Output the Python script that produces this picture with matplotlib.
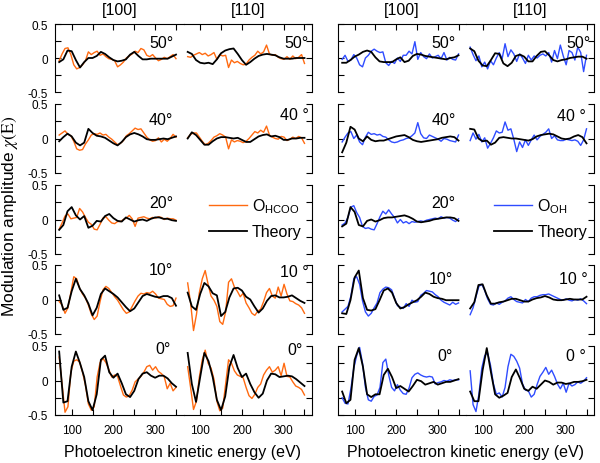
import matplotlib.pyplot as plt
from matplotlib.ticker import FixedLocator, MultipleLocator, FuncFormatter
from matplotlib.lines import Line2D

plt.rcParams['font.family'] = ['Liberation Sans', 'DejaVu Sans']
plt.rcParams['mathtext.fontset'] = 'stix'

# energy grids (eV)
e_th = list(range(70, 351, 10))
e_exp = list(range(70, 351, 7))

# ---- O(HCOO), [100] azimuth ----
hcoo_100_50_th = [-0.06, -0.02, 0.11, 0.10, -0.03, -0.14, -0.06, 0.0, 0.0, 0.03, 0.09, 0.06, 0.01, -0.03, -0.05,
                  -0.04, -0.02, 0.05, 0.09, 0.03, -0.02, -0.02, -0.01, -0.01, -0.01, -0.01, -0.01, 0.02, 0.05]
hcoo_100_50_ex = [-0.04, 0.06, 0.14, 0.15, 0.05, -0.10, -0.16, -0.14, -0.10, -0.04, 0.09, 0.05, 0.08, 0.10, 0.04,
                  0.06, 0.02, -0.01, -0.02, -0.04, -0.13, -0.10, -0.06, 0.00, 0.03, 0.06, 0.10, 0.08, 0.14, 0.12,
                  0.04, 0.02, 0.05, 0.00, -0.04, -0.02, 0.01, -0.01, 0.02, 0.05, -0.01]
hcoo_100_40_th = [-0.04, 0.02, 0.07, 0.03, -0.06, -0.10, -0.06, 0.14, 0.08, 0.04, 0.03, 0.01, -0.03, -0.07, -0.10,
                  -0.05, 0.02, 0.06, 0.08, 0.06, 0.03, -0.01, -0.02, -0.02, -0.01, 0.00, -0.01, 0.01, 0.03]
hcoo_100_40_ex = [0.05, 0.08, 0.11, 0.06, 0.04, -0.04, -0.15, -0.17, -0.16, -0.08, -0.02, 0.05, 0.07, 0.06, 0.08,
                  0.05, 0.06, 0.02, -0.01, -0.05, -0.09, -0.07, -0.03, 0.04, 0.07, 0.11, 0.15, 0.13, 0.14, 0.08,
                  0.02, -0.02, -0.04, -0.03, 0.01, -0.05, -0.01, -0.04, 0.00, 0.06, 0.02]
hcoo_100_20_th = [-0.15, -0.08, 0.12, 0.18, 0.06, 0.00, 0.05, -0.12, -0.09, -0.02, -0.03, 0.05, 0.08, 0.02, -0.02,
                  -0.03, 0.03, 0.00, -0.03, -0.01, 0.00, -0.02, 0.01, 0.03, 0.03, 0.01, 0.01, -0.01, -0.02]
hcoo_100_20_ex = [-0.14, -0.05, 0.05, 0.08, 0.01, 0.02, 0.03, 0.16, 0.11, 0.03, -0.04, -0.07, -0.14, -0.15, -0.07,
                  0.02, 0.04, -0.01, -0.05, -0.06, -0.03, -0.03, 0.00, 0.02, 0.06, 0.01, -0.10, 0.02, 0.03, 0.04,
                  0.02, 0.01, 0.03, 0.02, 0.04, 0.03, 0.00, 0.02, 0.01, 0.01, -0.01]
hcoo_100_10_th = [0.06, -0.15, -0.12, 0.12, 0.30, 0.15, 0.06, -0.06, -0.23, -0.12, 0.08, 0.16, 0.12, 0.08, 0.03,
                  -0.04, -0.11, -0.17, -0.13, -0.04, 0.05, 0.08, 0.06, 0.04, 0.03, 0.05, 0.05, 0.02, -0.09]
hcoo_100_10_ex = [-0.03, -0.08, -0.20, -0.12, 0.10, 0.33, 0.30, 0.16, 0.08, 0.02, -0.08, -0.21, -0.29, -0.24, -0.03,
                  0.14, 0.19, 0.16, 0.10, 0.04, -0.01, -0.08, -0.15, -0.20, -0.18, -0.10, -0.02, 0.05, 0.09, 0.08,
                  0.10, 0.09, 0.12, 0.08, 0.02, 0.01, 0.00, -0.07, -0.10, -0.09, 0.02]
hcoo_100_0_th = [0.42, -0.32, -0.30, 0.20, 0.42, 0.25, 0.05, -0.30, -0.43, -0.20, 0.30, 0.36, 0.12, 0.04, 0.10,
                 -0.04, -0.20, -0.24, -0.15, 0.02, 0.10, 0.12, 0.07, 0.04, 0.07, 0.07, 0.03, -0.04, -0.09]
hcoo_100_0_ex = [0.34, -0.05, -0.46, -0.38, 0.12, 0.28, 0.30, 0.27, 0.12, -0.07, -0.34, -0.43, -0.38, 0.05, 0.26,
                 0.32, 0.26, 0.16, 0.05, 0.08, 0.06, -0.08, -0.21, -0.24, -0.22, -0.14, -0.02, 0.02, 0.06, 0.12,
                 0.20, 0.22, 0.15, 0.20, 0.13, 0.10, 0.05, -0.12, -0.04, -0.15, -0.10]

# ---- O(HCOO), [110] azimuth ----
hcoo_110_50_th = [0.09, 0.06, -0.03, -0.07, -0.08, -0.07, -0.09, -0.02, 0.07, 0.11, 0.13, 0.14, 0.06, -0.03, -0.10,
                  -0.06, -0.01, 0.03, 0.05, 0.06, 0.05, 0.04, 0.01, -0.01, -0.01, -0.01, 0.00, 0.00, 0.00]
hcoo_110_50_ex = [0.02, 0.01, 0.04, 0.06, 0.08, 0.05, 0.07, 0.03, 0.05, 0.08, -0.02, 0.05, 0.03, 0.04, -0.14,
                  -0.03, -0.07, -0.05, -0.08, -0.10, -0.09, -0.03, 0.01, 0.04, 0.10, 0.06, 0.09, 0.19, 0.06, 0.04,
                  0.05, 0.01, -0.01, -0.02, 0.02, -0.02, 0.03, -0.01, 0.01, 0.05, -0.08]
hcoo_110_40_th = [0.00, 0.09, 0.05, -0.02, -0.09, -0.09, -0.04, 0.00, 0.02, 0.02, 0.01, 0.00, 0.01, -0.02, -0.05,
                  -0.05, -0.01, 0.03, 0.05, 0.06, 0.03, 0.04, 0.02, -0.02, -0.02, 0.00, 0.00, 0.01, 0.01]
hcoo_110_40_ex = [0.01, 0.06, 0.08, 0.08, 0.02, -0.04, -0.09, -0.07, -0.03, 0.02, 0.04, 0.07, 0.05, 0.02, -0.15,
                  -0.02, -0.05, -0.03, -0.04, -0.06, -0.04, 0.00, 0.05, 0.10, 0.08, 0.12, 0.09, 0.18, 0.05, 0.02,
                  0.00, -0.01, 0.03, 0.02, -0.03, -0.01, 0.02, 0.00, 0.03, 0.01, -0.07]
hcoo_110_10_th = [0.10, -0.10, -0.15, 0.08, 0.24, 0.19, 0.09, 0.06, -0.24, -0.18, 0.03, 0.16, 0.17, 0.13, 0.04,
                  0.00, -0.10, -0.19, -0.13, -0.02, 0.05, 0.06, 0.03, 0.03, 0.04, 0.06, 0.02, -0.02, -0.05]
hcoo_110_10_ex = [0.24, -0.05, -0.45, -0.22, 0.10, 0.30, 0.42, 0.22, 0.05, -0.01, -0.10, -0.32, -0.36, -0.18, 0.25,
                  0.30, 0.18, 0.12, 0.04, 0.09, -0.05, -0.12, -0.20, -0.23, -0.17, -0.14, -0.03, 0.10, 0.16, 0.05,
                  0.02, 0.18, 0.05, 0.22, 0.08, -0.02, -0.03, -0.06, -0.08, -0.12, -0.20]
hcoo_110_0_th = [0.40, -0.05, -0.31, 0.05, 0.40, 0.28, 0.05, -0.28, -0.43, -0.23, 0.20, 0.37, 0.18, 0.05, 0.10,
                 -0.05, -0.17, -0.25, -0.19, 0.00, 0.10, 0.09, 0.05, 0.06, 0.07, 0.06, 0.02, -0.03, -0.08]
hcoo_110_0_ex = [0.20, -0.10, -0.42, -0.30, 0.05, 0.30, 0.44, 0.25, 0.18, 0.02, -0.30, -0.44, -0.40, -0.05, 0.30,
                 0.25, 0.14, 0.08, 0.06, 0.04, -0.10, -0.22, -0.26, -0.20, -0.10, -0.05, 0.08, 0.15, 0.20, 0.12,
                 0.15, 0.20, 0.07, 0.25, 0.06, 0.05, -0.02, -0.08, -0.10, -0.13, -0.21]

# ---- O(OH), [100] azimuth ----
oh_100_50_th = [-0.07, -0.07, -0.03, 0.02, 0.05, 0.09, 0.11, 0.09, 0.01, -0.05, -0.06, -0.06, -0.06, -0.02, 0.01,
                -0.06, -0.04, 0.03, 0.06, 0.05, 0.03, 0.02, 0.01, 0.00, -0.01, -0.02, 0.00, 0.01, 0.04]
oh_100_50_ex = [-0.02, 0.04, -0.05, -0.03, 0.05, 0.00, -0.10, -0.13, 0.00, 0.04, 0.10, 0.13, 0.10, 0.08, 0.09,
                -0.07, -0.11, -0.05, -0.08, 0.00, -0.05, 0.04, 0.04, 0.10, 0.06, 0.24, -0.02, 0.08, 0.02, -0.01,
                0.06, 0.00, 0.02, 0.04, -0.01, 0.08, -0.03, 0.01, -0.02, -0.03, 0.06]
oh_100_40_th = [-0.20, -0.06, 0.17, 0.13, 0.00, -0.04, 0.03, -0.02, -0.04, -0.03, -0.03, -0.01, 0.01, 0.03, 0.04,
                0.05, 0.02, -0.02, -0.04, -0.05, -0.04, -0.03, -0.02, -0.01, 0.01, 0.02, 0.03, 0.02, -0.03]
oh_100_40_ex = [-0.05, 0.02, 0.08, 0.10, 0.00, 0.05, -0.05, -0.09, 0.02, 0.09, 0.06, 0.07, 0.05, 0.06, 0.03,
                0.02, -0.02, -0.05, -0.06, -0.05, -0.03, -0.02, 0.00, 0.01, 0.04, 0.08, 0.23, 0.07, 0.01, 0.00,
                0.05, 0.03, 0.01, -0.01, -0.04, 0.00, -0.01, -0.03, -0.04, -0.05, 0.05]
oh_100_20_th = [-0.10, -0.06, 0.18, 0.11, -0.08, -0.10, -0.02, 0.00, -0.03, -0.01, 0.02, 0.03, 0.03, 0.04, 0.05,
                0.06, 0.04, 0.01, -0.03, -0.04, -0.03, -0.02, 0.00, 0.01, 0.02, 0.03, 0.03, 0.02, -0.02]
oh_100_20_ex = [-0.08, -0.05, 0.03, 0.18, 0.20, 0.10, 0.03, -0.10, -0.13, -0.12, -0.14, -0.15, -0.06, 0.04, 0.12,
                0.08, 0.14, 0.08, 0.03, -0.05, 0.00, -0.05, -0.03, -0.06, -0.03, -0.04, -0.03, -0.02, -0.03, -0.01,
                0.00, 0.01, 0.02, 0.01, 0.04, 0.02, 0.03, 0.02, -0.01, -0.03, 0.01]
oh_100_10_th = [-0.20, -0.21, -0.01, 0.32, 0.42, 0.02, -0.15, -0.16, -0.14, -0.01, 0.13, 0.16, 0.10, -0.05, -0.13,
                -0.11, -0.07, -0.04, -0.01, 0.04, 0.10, 0.08, 0.04, 0.02, 0.01, -0.01, -0.01, -0.01, -0.01]
oh_100_10_ex = [-0.18, -0.14, -0.10, 0.05, 0.30, 0.33, 0.22, -0.02, -0.18, -0.24, -0.20, -0.12, -0.05, 0.10, 0.15,
                0.18, 0.17, 0.14, 0.02, -0.09, -0.11, -0.13, -0.06, -0.10, -0.01, -0.04, -0.03, 0.06, 0.09, 0.13,
                0.12, 0.11, 0.07, 0.04, -0.01, -0.04, -0.06, -0.08, -0.04, -0.07, -0.05]
oh_100_0_th = [-0.16, -0.33, -0.28, 0.30, 0.47, 0.20, -0.20, -0.24, -0.20, -0.20, 0.08, 0.17, 0.05, -0.11, -0.08,
               -0.12, -0.16, -0.08, 0.01, -0.01, -0.06, -0.04, -0.02, -0.06, -0.04, -0.02, -0.02, 0.00, 0.02]
oh_100_0_ex = [-0.25, -0.33, -0.34, -0.12, 0.18, 0.36, 0.48, 0.25, -0.10, -0.28, -0.30, -0.23, -0.21, -0.10, 0.26,
               0.31, 0.08, -0.10, -0.15, -0.06, -0.14, -0.19, -0.20, -0.11, 0.04, 0.09, 0.11, 0.08, 0.06, 0.05,
               0.06, 0.05, -0.05, -0.03, -0.02, 0.00, -0.01, 0.01, 0.00, 0.01, 0.01]

# ---- O(OH), [110] azimuth ----
oh_110_50_th = [0.14, 0.10, -0.04, -0.11, -0.12, -0.03, 0.07, 0.06, -0.08, -0.12, -0.07, 0.03, 0.05, 0.02, -0.05,
                -0.05, 0.03, 0.09, 0.10, 0.04, -0.03, -0.05, -0.03, -0.02, 0.00, 0.01, 0.02, 0.02, -0.01]
oh_110_50_ex = [0.16, 0.05, -0.04, 0.03, -0.13, -0.06, -0.16, -0.04, -0.10, 0.00, 0.08, -0.01, 0.21, 0.02, 0.12,
                0.06, -0.05, 0.06, 0.00, -0.08, 0.04, -0.03, 0.03, 0.00, 0.04, 0.06, 0.03, 0.08, -0.06, 0.11,
                -0.01, 0.19, 0.03, -0.10, 0.11, 0.08, -0.03, 0.16, 0.08, -0.20, 0.04]
oh_110_40_th = [0.14, 0.13, 0.00, -0.04, -0.03, -0.09, -0.06, 0.01, 0.02, 0.01, 0.00, 0.00, -0.01, -0.02, -0.03,
                -0.01, 0.03, 0.05, 0.06, 0.07, 0.06, 0.03, 0.00, -0.01, 0.00, 0.03, 0.05, 0.02, -0.07]
oh_110_40_ex = [-0.03, 0.08, -0.01, 0.06, -0.05, 0.01, -0.14, -0.07, 0.01, 0.11, 0.08, 0.09, 0.24, 0.12, 0.14,
                -0.01, -0.19, -0.05, -0.13, -0.02, -0.10, -0.02, 0.05, -0.02, 0.03, 0.06, 0.09, 0.14, 0.00, 0.04,
                -0.02, -0.03, -0.03, -0.01, -0.02, -0.03, -0.02, -0.04, -0.10, -0.02, 0.14]
oh_110_10_th = [-0.13, -0.04, 0.21, 0.22, 0.06, -0.06, -0.06, -0.04, -0.03, -0.01, 0.01, 0.01, -0.01, -0.03, -0.03,
                0.00, 0.02, 0.03, 0.05, 0.03, 0.00, -0.01, -0.01, 0.00, 0.01, 0.00, 0.00, 0.00, 0.04]
oh_110_10_ex = [-0.22, -0.12, 0.04, 0.19, 0.22, 0.13, 0.01, -0.07, -0.08, -0.05, -0.07, -0.04, -0.02, 0.02, 0.04,
                0.00, -0.03, -0.04, -0.05, 0.00, -0.03, 0.02, 0.04, 0.04, 0.06, 0.07, 0.07, 0.08, 0.06, 0.04,
                0.02, 0.00, -0.01, 0.01, -0.01, -0.02, 0.00, -0.01, 0.01, -0.02, -0.06]
oh_110_0_th = [-0.16, -0.30, -0.30, 0.15, 0.47, 0.12, -0.20, -0.25, -0.22, -0.18, 0.05, 0.16, 0.03, -0.12, -0.15,
               -0.09, -0.12, -0.06, 0.00, -0.02, -0.06, -0.03, -0.03, -0.05, -0.04, -0.02, -0.02, -0.01, 0.01]
oh_110_0_ex = [0.14, -0.35, -0.45, -0.20, 0.18, 0.36, 0.40, 0.22, -0.05, -0.20, -0.18, -0.24, -0.10, 0.20, 0.38,
               0.35, 0.28, 0.18, -0.05, -0.14, -0.15, -0.24, -0.20, -0.06, 0.06, 0.12, 0.19, 0.09, 0.15, 0.06,
               -0.05, -0.12, -0.04, -0.17, -0.04, -0.08, -0.06, -0.02, -0.04, -0.01, 0.04]

azimuths = ['[100]', '[110]', '[100]', '[110]']
orange = '#ff6a10'
blue = '#2f4cff'

# panel table: (row, column) -> experiment, theory, colour, angle text
panels = {
    (0, 0): (hcoo_100_50_ex, hcoo_100_50_th, orange, '50°'),
    (1, 0): (hcoo_100_40_ex, hcoo_100_40_th, orange, '40°'),
    (2, 0): (hcoo_100_20_ex, hcoo_100_20_th, orange, '20°'),
    (3, 0): (hcoo_100_10_ex, hcoo_100_10_th, orange, '10°'),
    (4, 0): (hcoo_100_0_ex, hcoo_100_0_th, orange, '0°'),
    (0, 1): (hcoo_110_50_ex, hcoo_110_50_th, orange, '50°'),
    (1, 1): (hcoo_110_40_ex, hcoo_110_40_th, orange, '40 °'),
    (3, 1): (hcoo_110_10_ex, hcoo_110_10_th, orange, '10 °'),
    (4, 1): (hcoo_110_0_ex, hcoo_110_0_th, orange, '0°'),
    (0, 2): (oh_100_50_ex, oh_100_50_th, blue, '50°'),
    (1, 2): (oh_100_40_ex, oh_100_40_th, blue, '40°'),
    (2, 2): (oh_100_20_ex, oh_100_20_th, blue, '20°'),
    (3, 2): (oh_100_10_ex, oh_100_10_th, blue, '10°'),
    (4, 2): (oh_100_0_ex, oh_100_0_th, blue, '0°'),
    (0, 3): (oh_110_50_ex, oh_110_50_th, blue, '50°'),
    (1, 3): (oh_110_40_ex, oh_110_40_th, blue, '40 °'),
    (3, 3): (oh_110_10_ex, oh_110_10_th, blue, '10 °'),
    (4, 3): (oh_110_0_ex, oh_110_0_th, blue, '0 °'),
}

# angle label anchor (axes fraction, right edge / centre)
label_pos = {
    (0, 0): (0.92, 0.735), (1, 0): (0.92, 0.78), (2, 0): (0.92, 0.75), (3, 0): (0.92, 0.94), (4, 0): (0.90, 0.97),
    (0, 1): (0.975, 0.735), (1, 1): (0.975, 0.85), (3, 1): (0.975, 0.91), (4, 1): (0.93, 0.95),
    (0, 2): (0.92, 0.735), (1, 2): (0.92, 0.78), (2, 2): (0.92, 0.75), (3, 2): (0.895, 0.80), (4, 2): (0.895, 0.86),
    (0, 3): (0.975, 0.735), (1, 3): (0.94, 0.84), (3, 3): (0.955, 0.80), (4, 3): (0.94, 0.86),
}

W, H = 600, 464
row_px = [(25, 93), (105, 174), (186, 255), (266, 335), (347, 416)]
col_px = [(55, 183.5), (183.5, 312), (338, 466), (466, 594)]

fig = plt.figure(figsize=(6, 4.64), dpi=100)
axes = {}
for r in range(5):
    for c in range(4):
        x0, x1 = col_px[c]
        y0, y1 = row_px[r]
        ax = fig.add_axes([x0 / W, 1 - y1 / H, (x1 - x0) / W, (y1 - y0) / H])
        ax.patch.set_alpha(0)
        ax.set_xlim(60, 368)
        ax.set_ylim(-0.5, 0.5)
        first = c % 2 == 0
        ax.spines['left'].set_visible(first)
        ax.spines['right'].set_visible(not first)
        ax.spines['top'].set_visible(r == 0)
        ax.spines['bottom'].set_visible(r == 4)
        for s in ax.spines.values():
            s.set_linewidth(0.8)
        ax.yaxis.set_major_locator(FixedLocator([-0.5, 0, 0.5]))
        ax.yaxis.set_minor_locator(FixedLocator([-0.25, 0.25]))
        ax.yaxis.set_major_formatter(FuncFormatter(lambda v, p: '%g' % v))
        ax.tick_params(axis='y', which='both', direction='in', length=4, width=0.8,
                       left=first, right=not first, labelleft=(c == 0), labelright=False,
                       labelsize=8.5, pad=5)
        ax.xaxis.set_major_locator(MultipleLocator(100))
        ax.xaxis.set_minor_locator(MultipleLocator(50))
        ax.tick_params(axis='x', which='both', direction='in', length=4, width=0.8,
                       top=(r == 0), bottom=(r == 4), labelbottom=(r == 4),
                       labelsize=8.5, pad=6.5)
        axes[(r, c)] = ax

for (r, c), (ex, th, col, txt) in panels.items():
    ax = axes[(r, c)]
    ax.plot(e_exp, ex, color=col, lw=1.0, solid_joinstyle='round')
    ax.plot(e_th, th, color='black', lw=1.3, solid_joinstyle='round')
    lx, ly = label_pos[(r, c)]
    ax.text(lx, ly, txt, transform=ax.transAxes, ha='right', va='center', fontsize=11.5)

# legends in the empty 20 deg [110] panels
for c, col, name, bx in [(1, orange, r'O$_\mathregular{HCOO}$', 0.145), (3, blue, r'O$_\mathregular{OH}$', 0.17)]:
    handles = [Line2D([], [], color=col, lw=1.0), Line2D([], [], color='black', lw=1.3)]
    axes[(2, c)].legend(handles, [name, 'Theory'], loc='center left', bbox_to_anchor=(bx, 0.52),
                        frameon=False, fontsize=11.5, handlelength=2.4, handletextpad=0.3,
                        labelspacing=0.6, borderaxespad=0)

# column headings
for c, az in enumerate(azimuths):
    x0, x1 = col_px[c]
    fig.text((x0 + x1) / 2 / W, 1 - 11 / H, az, ha='center', va='center', fontsize=11.5)

fig.text(183 / W, 1 - 453 / H, 'Photoelectron kinetic energy (eV)', ha='center', va='center', fontsize=11.5)
fig.text(466 / W, 1 - 453 / H, 'Photoelectron kinetic energy (eV)', ha='center', va='center', fontsize=11.5)
fig.text(10 / W, 1 - 216 / H, r'Modulation amplitude $\chi(\mathrm{E})$', rotation=90,
         ha='center', va='center', fontsize=12.5)

fig.savefig('out.png', dpi=100)
